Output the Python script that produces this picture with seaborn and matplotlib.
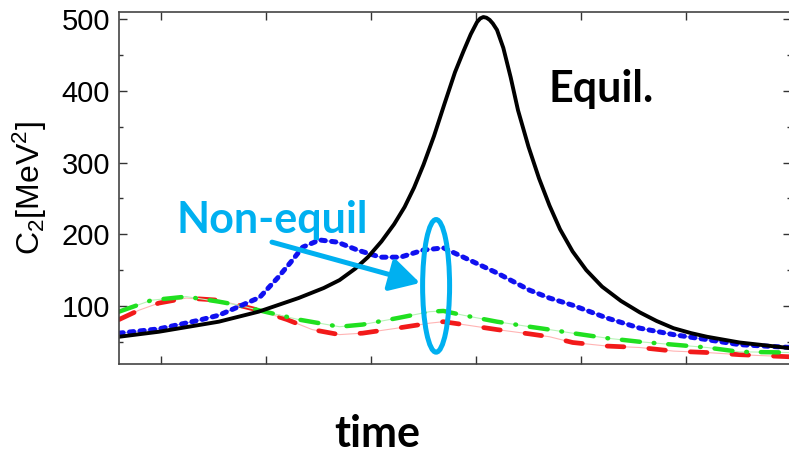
import matplotlib
matplotlib.use("Agg")
import matplotlib.pyplot as plt
import seaborn as sns
import pandas as pd
from matplotlib.patches import Ellipse

# ---- data ----
black_t = [-0.40, -0.02, 0.55, 0.93, 1.31, 1.55, 1.70, 1.85, 1.97, 2.10, 2.22, 2.32, 2.41, 2.50,
           2.60, 2.70, 2.80, 2.88, 2.95, 3.01, 3.04, 3.07, 3.10, 3.13, 3.16, 3.20, 3.26, 3.33,
           3.40, 3.50, 3.60, 3.70, 3.80, 3.92, 4.05, 4.20, 4.38, 4.56, 4.72, 4.88, 5.05, 5.20,
           5.51, 6.00]
black_v = [57, 64, 78, 92, 111, 125, 136, 152, 168, 190, 214, 238, 265, 297,
           337, 382, 426, 455, 479, 496, 501, 503, 502, 499, 494, 485, 460, 419,
           373, 322, 278, 240, 207, 176, 150, 127, 107, 91, 79, 69, 62, 57,
           49, 41]

blue_t = [-0.40, -0.02, 0.36, 0.55, 0.74, 0.94, 1.11, 1.23, 1.35, 1.51, 1.68, 1.87, 2.09, 2.28,
          2.50, 2.69, 2.88, 3.20, 3.51, 3.70, 3.92, 4.25, 4.56, 4.88, 5.20, 5.51, 6.00]
blue_v = [62, 68, 80, 87, 99, 112, 139, 160, 182, 192, 189, 178, 168, 168,
          178, 181, 168, 146, 122, 111, 101, 83, 69, 60, 53, 46, 42]

green_t = [-0.40, -0.09, 0.24, 0.55, 0.74, 0.93, 1.31, 1.70, 1.92, 2.25, 2.56, 2.69, 2.88, 3.20,
           3.51, 3.70, 3.92, 4.25, 4.56, 4.88, 5.20, 5.51, 6.00]
green_v = [92, 108, 113, 106, 101, 94, 81, 71, 74, 83, 92, 93, 87, 78,
           71, 67, 62, 55, 50, 46, 42, 36, 35]

red_t = [-0.40, -0.21, -0.02, 0.24, 0.55, 0.93, 1.20, 1.44, 1.70, 1.92, 2.25, 2.56, 2.69, 2.88,
         3.20, 3.51, 3.70, 3.92, 4.25, 4.56, 4.88, 5.20, 5.51, 6.00]
red_v = [81, 94, 104, 111, 108, 94, 81, 67, 60, 62, 69, 76, 78, 74,
         67, 61, 57, 49, 44, 42, 37, 35, 32, 29]

y_ticks = [100, 200, 300, 400, 500]
x_ticks = [0, 1, 2, 3, 4, 5, 6]

ylabel = "C$_2$[MeV$^2$]"
xlabel = "time"
equil_label = "Equil."
nonequil_label = "Non-equil"

# ---- style ----
sns.set_style("ticks")
plt.rcParams["font.family"] = ["Liberation Sans", "DejaVu Sans"]
plt.rcParams["mathtext.fontset"] = "custom"
plt.rcParams["mathtext.rm"] = "Liberation Sans"
plt.rcParams["mathtext.it"] = "Liberation Sans:italic"
plt.rcParams["mathtext.bf"] = "Liberation Sans:bold"
plt.rcParams["mathtext.default"] = "regular"
plt.rcParams["lines.scale_dashes"] = False

W, H = 789, 455
fig = plt.figure(figsize=(W / 100, H / 100), dpi=100)
ax = fig.add_axes([119 / W, 91 / H, (791 - 119) / W, (443 - 91) / H])

cyan = "#00b0f0"

series = [
    (red_t, red_v, "#f21a1a", "#ffb4b4", 3.4, (0, (12, 18))),
    (green_t, green_v, "#20e020", "#b8f3b8", 3.2, (0, (13, 10, 0.5, 10))),
    (blue_t, blue_v, "#1010f0", "#9a9aff", 3.6, (0, (3.0, 4.6))),
]
for t, v, col, light, lw, dash in series:
    df = pd.DataFrame({"t": t, "v": v})
    sns.lineplot(data=df, x="t", y="v", ax=ax, color=light, linewidth=0.8, legend=False)
    sns.lineplot(data=df, x="t", y="v", ax=ax, color=col, linewidth=lw, legend=False)
    ln = ax.lines[-1]
    ln.set_linestyle(dash)
    ln.set_dash_capstyle("round")

dfb = pd.DataFrame({"t": black_t, "v": black_v})
sns.lineplot(data=dfb, x="t", y="v", ax=ax, color="black", linewidth=2.8, legend=False)
ax.lines[-1].set_solid_joinstyle("round")

ax.set_xlim(-0.4, 6.0)
ax.set_ylim(19, 510)
ax.set_xticks(x_ticks)
ax.set_yticks(y_ticks)
ax.set_yticks([50, 150, 250, 350, 450], minor=True)
ax.set_xlabel("")
ax.set_ylabel("")
ax.tick_params(which="both", direction="in", top=True, right=True,
               labelbottom=False, width=1.0, color="#333333")
ax.tick_params(which="major", length=6)
ax.tick_params(which="minor", length=3)
ax.tick_params(axis="y", labelsize=21, pad=6.5, labelcolor="black")
for s in ax.spines.values():
    s.set_visible(True)
    s.set_color("#444444")
    s.set_linewidth(1.2)

# ellipse + arrow (data coords)
ax.add_patch(Ellipse((2.62, 128), 0.257, 185, fill=False, edgecolor=cyan, linewidth=3.6, zorder=6))
ax.annotate("", xy=(2.467, 132), xytext=(1.057, 189),
            arrowprops=dict(arrowstyle="-|>,head_length=0.9,head_width=0.5",
                            color=cyan, lw=3.6, mutation_scale=20, shrinkA=0, shrinkB=0),
            zorder=6)

# texts
fig.text(601 / W, 1 - 102 / H, equil_label, ha="center", va="baseline",
         fontsize=31, fontweight="bold", family=["Lato", "DejaVu Sans"], color="black")
fig.text(272 / W, 1 - 233 / H, nonequil_label, ha="center", va="baseline",
         fontsize=31, fontweight="bold", family=["Lato", "DejaVu Sans"], color=cyan)
fig.text(377 / W, 1 - 447 / H, xlabel, ha="center", va="baseline",
         fontsize=31, fontweight="bold", family=["Lato", "DejaVu Sans"], color="black")
fig.text(30 / W, 1 - 188 / H, ylabel, ha="center", va="center", rotation=90,
         fontsize=23, color="black")

fig.savefig("out.png", dpi=100)
